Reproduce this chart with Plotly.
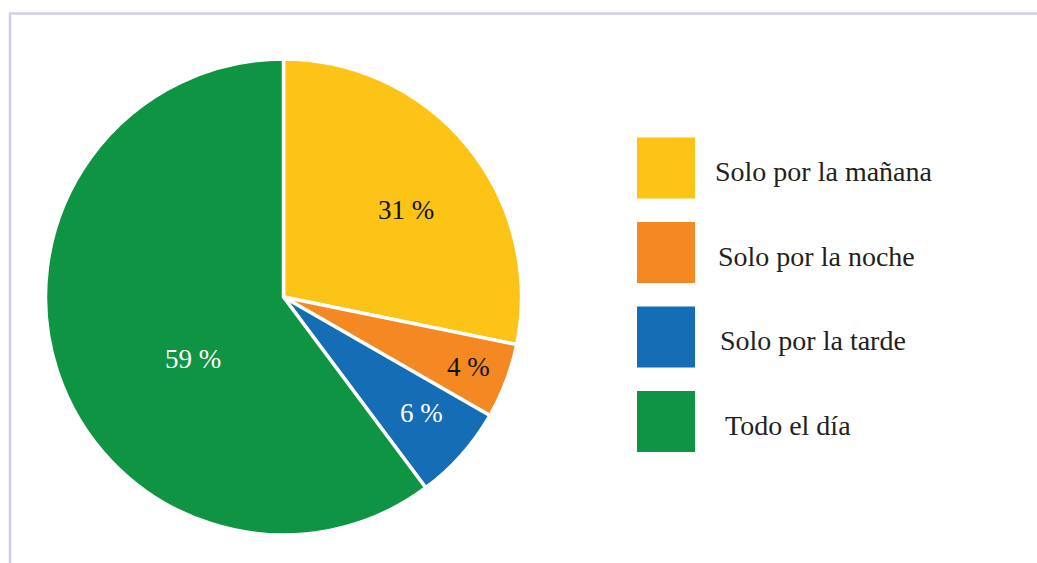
import math
import plotly.graph_objects as go

W, H = 1037, 563

# Data (slice sizes as drawn, printed percentage labels)
categories = ["Solo por la mañana", "Solo por la noche", "Solo por la tarde", "Todo el día"]
drawn_shares = [28.2, 5.1, 6.5, 60.2]
printed_labels = ["31 %", "4 %", "6 %", "59 %"]
colors = ["#fbc416", "#f48823", "#146db5", "#0f9444"]
label_colors = ["#111111", "#111111", "#ffffff", "#ffffff"]

# label placement style: (radius fraction, angle offset in degrees from slice middle)
label_place = [(0.63, 4), (0.83, 0), (0.76, -1.5), (0.46, -16)]

FONT = "Liberation Serif"

def px_x(x):
    return x / W

def px_y(y):
    return 1 - y / H

cx, cy, r = 283.5, 297, 238

fig = go.Figure(go.Pie(
    labels=categories,
    values=drawn_shares,
    text=printed_labels,
    textinfo="none",
    marker=dict(colors=colors, line=dict(color="white", width=3.5)),
    sort=False,
    direction="clockwise",
    rotation=0,
    showlegend=False,
    hoverinfo="label+text",
    domain=dict(x=[px_x(cx - r), px_x(cx + r)], y=[px_y(cy + r), px_y(cy - r)]),
))

shapes = []
annotations = []
# frame lines (top and left)
shapes.append(dict(type="path", xref="paper", yref="paper",
                   path=f"M {px_x(10)} {px_y(H)} L {px_x(10)} {px_y(13.5)} L {px_x(W)} {px_y(13.5)}",
                   line=dict(color="#d0cfe5", width=2.5)))

# slice labels placed from the data's cumulative angles
total = sum(drawn_shares)
cum = 0.0
for val, txt, tcol, (rf, dth) in zip(drawn_shares, printed_labels, label_colors, label_place):
    mid = (cum + val / 2) / total * 360 + dth
    cum += val
    lx = cx + rf * r * math.sin(math.radians(mid))
    ly = cy - rf * r * math.cos(math.radians(mid))
    annotations.append(dict(xref="paper", yref="paper", x=px_x(lx), y=px_y(ly),
                            xanchor="center", yanchor="middle", showarrow=False, text=txt,
                            font=dict(family=FONT, size=27, color=tcol)))

# custom legend
sq_x0, sq_x1 = 637, 695
sq_top0, sq_h, step = 137.5, 61, 84.5
text_x = [713, 716, 718, 723]
for i, (cat, col) in enumerate(zip(categories, colors)):
    y0 = sq_top0 + i * step
    shapes.append(dict(type="rect", xref="paper", yref="paper",
                       x0=px_x(sq_x0), x1=px_x(sq_x1), y0=px_y(y0 + sq_h), y1=px_y(y0),
                       fillcolor=col, line=dict(width=0)))
    annotations.append(dict(xref="paper", yref="paper", x=px_x(text_x[i]), y=px_y(y0 + sq_h / 2 + 3.5),
                            xanchor="left", yanchor="middle", showarrow=False, text=cat,
                            font=dict(family=FONT, size=28, color="#231f20")))

fig.update_layout(
    width=W, height=H,
    margin=dict(l=0, r=0, t=0, b=0),
    paper_bgcolor="white", plot_bgcolor="white",
    shapes=shapes, annotations=annotations,
)

fig.write_html("out.html", config={"displayModeBar": False},
               post_script="document.body.style.margin='0';")
